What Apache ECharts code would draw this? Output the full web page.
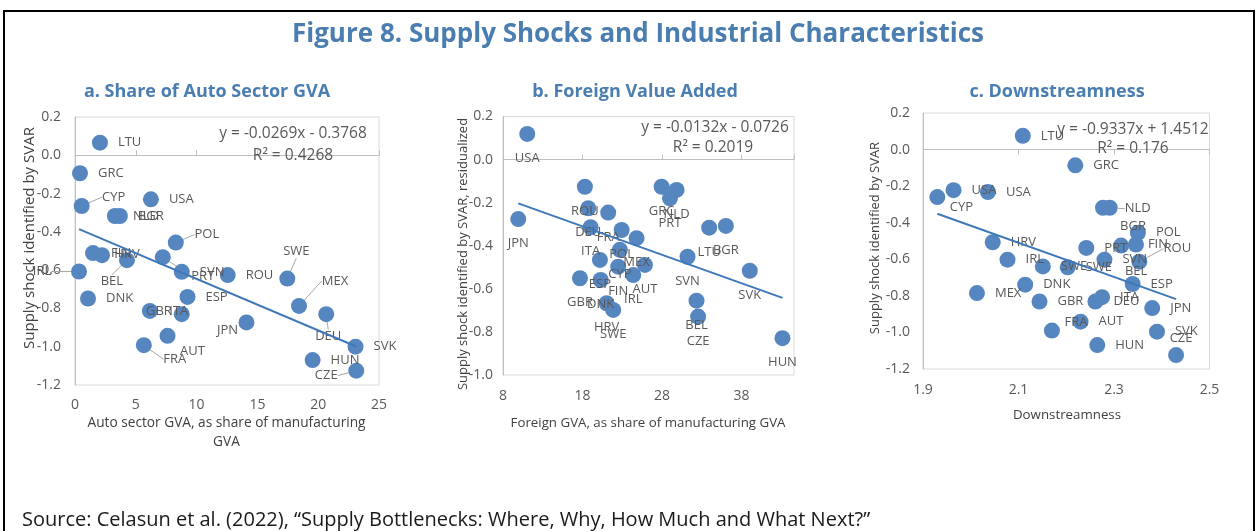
<!DOCTYPE html>
<html><head><meta charset="utf-8">
<script src="https://cdn.jsdelivr.net/npm/echarts@6/dist/echarts.min.js"></script>
<style>html,body{margin:0;padding:0;background:#fff}#chart{width:1258px;height:531px}</style>
</head><body><div id="chart"></div>
<script>
// ---------- DATA ----------
// Panel a: Share of auto sector GVA
const aNames = ['LTU','GRC','CYP','USA','NLD','BGR','POL','FIN','HRV','BEL','IRL','DNK','PRT','SVN','ROU','ESP','GBR','ITA','JPN','FRA','AUT','SWE','MEX','DEU','SVK','HUN','CZE'];
const aX = [2.05,0.41,0.55,6.24,3.28,3.69,8.29,1.48,2.22,4.27,0.33,1.07,7.22,8.78,12.56,9.25,6.16,8.78,14.1,5.66,7.61,17.46,18.42,20.66,23.07,19.54,23.13];
const aY = [0.066,-0.094,-0.265,-0.230,-0.317,-0.317,-0.456,-0.511,-0.522,-0.548,-0.607,-0.748,-0.532,-0.609,-0.626,-0.740,-0.813,-0.830,-0.873,-0.992,-0.943,-0.644,-0.787,-0.830,-1.000,-1.070,-1.125];
const aTrend = [-0.0269, -0.3768];   // slope, intercept (from the chart's equation)
const aEq = ['y = -0.0269x - 0.3768', 'R\u00b2 = 0.4268'];

// Panel b: Foreign value added
const bNames = ['USA','JPN','ROU','DEU','FRA','ITA','POL','MEX','CYP','ESP','FIN','AUT','IRL','GBR','DNK','HRV','SWE','GRC','NLD','PRT','LTU','BGR','SVN','BEL','CZE','SVK','HUN'];
const bX = [11.05,9.92,18.3,18.72,21.23,19.02,22.92,24.8,22.7,20.19,22.49,25.85,24.38,17.68,20.28,21.03,21.86,27.95,29.83,29.0,33.93,36.03,31.21,32.34,32.54,39.04,43.15];
const bY = [0.119,-0.276,-0.126,-0.226,-0.246,-0.314,-0.327,-0.365,-0.419,-0.466,-0.497,-0.489,-0.536,-0.551,-0.559,-0.667,-0.698,-0.126,-0.141,-0.180,-0.316,-0.308,-0.451,-0.655,-0.729,-0.516,-0.829];
const bTrend = [-0.0132, -0.0726];
const bEq = ['y = -0.0132x - 0.0726', 'R\u00b2 = 0.2019'];

// Panel c: Downstreamness
const cNames = ['LTU','GRC','USA','USA','CYP','BGR','NLD','POL','FIN','HRV','PRT','BEL','IRL','SWE','SWE','SVN','ROU','ESP','DNK','MEX','GBR','DEU','ITA','JPN','FRA','AUT','HUN','SVK','CZE'];
const cX = [2.109,2.219,1.964,2.036,1.930,2.277,2.291,2.350,2.346,2.046,2.242,2.315,2.077,2.151,2.203,2.280,2.353,2.339,2.114,2.013,2.144,2.261,2.275,2.380,2.170,2.230,2.265,2.390,2.430];
const cY = [0.075,-0.086,-0.222,-0.232,-0.260,-0.318,-0.318,-0.455,-0.519,-0.507,-0.538,-0.525,-0.602,-0.639,-0.644,-0.602,-0.613,-0.735,-0.739,-0.785,-0.831,-0.831,-0.807,-0.867,-0.990,-0.941,-1.069,-0.996,-1.124];
const cTrend = [-0.9337, 1.4512];
const cEq = ['y = -0.9337x + 1.4512', 'R\u00b2 = 0.176'];

// Tick settings
const aXTicks = {min: 0, max: 25, interval: 5};
const bXTicks = {min: 8, max: 44.6, interval: 10};
const cXTicks = {min: 1.9, max: 2.5, interval: 0.2};
const aYTicks = {min: -1.2, max: 0.2, interval: 0.2};
const bYTicks = {min: -1.0, max: 0.2, interval: 0.2};
const cYTicks = {min: -1.2, max: 0.2, interval: 0.2};

// ---------- STYLE (label placement: [dx, dy, leaderLine]) ----------
const aLabelMoves = {CYP:[32,-9,1], POL:[31,-8,1], HRV:[25,-1,0], BEL:[-15,21,1], IRL:[-37,0,1], PRT:[40,19,1],
  GBR:[9,0,0], ITA:[-3,-3,0], JPN:[-19,8,0], FRA:[31,14,1], AUT:[25,15,0], SWE:[9,-27,1], MEX:[36,-25,1], DEU:[2,22,1], CZE:[-30,5,1]};
const cLabelMoves = {CYP:[24,10,0], BGR:[30,19,0], NLD:[28,1,1], FIN:[22,0,0], BEL:[15,26,0], ROU:[38,-13,1], FRA:[24,-8,0], CZE:[5,-17,0]};

const DOT = '#5686c0';
const LINE = '#3f78b8';
const TXT = '#595959';
const AX = '#bfbfbf';
const TITLE = '#4a7db0';
const FONT = '"Open Sans", "DejaVu Sans", sans-serif';

function fmt1(v){ if (Math.abs(v) < 1e-9) return '0.0'; return v.toFixed(1); }

function makeData(names, xs, ys, moves){
  return names.map((n, i) => {
    const item = {name: n, value: [xs[i], ys[i]]};
    const m = moves && moves[n];
    if (m) {
      item.label = {position: 'inside'};
      if (m[2]) item.labelLine = {show: true};
    }
    return item;
  });
}
function layoutFn(names, moves){
  return function(p){
    const m = moves && moves[names[p.dataIndex]];
    if (m) return {dx: m[0], dy: m[1]};
    return {};
  };
}
function trendData(xs, t){
  const lo = Math.min.apply(null, xs), hi = Math.max.apply(null, xs);
  return [[lo, t[0]*lo + t[1]], [hi, t[0]*hi + t[1]]];
}

const grids = [
  {left: 75, top: 117, width: 304, height: 268},
  {left: 503, top: 116.5, width: 291, height: 258.5},
  {left: 923, top: 113, width: 286.5, height: 256}
];

function xAxesFor(gi, t, ticksInside, margin){
  return [
    {type:'value', gridIndex: gi, position:'bottom', min:t.min, max:t.max, interval:t.interval,
     axisLine:{show:false, onZero:false}, axisTick:{show:false}, splitLine:{show:false},
     axisLabel:{fontFamily: FONT, fontSize: 14, color: TXT, margin: margin, showMaxLabel: gi !== 1,
       formatter: v => gi === 2 ? v.toFixed(1) : String(Math.round(v))}},
    {type:'value', gridIndex: gi, position:'bottom', min:t.min, max:t.max, interval:t.interval,
     axisLine:{show:true, onZero:true, lineStyle:{color: AX, width: 1}},
     axisTick:{show:true, inside: ticksInside, length: 5, lineStyle:{color: AX}},
     axisLabel:{show:false}, splitLine:{show:false}}
  ];
}
function yAxisFor(gi, t, margin){
  return {type:'value', gridIndex: gi, min:t.min, max:t.max, interval:t.interval,
    axisLine:{show:true, onZero:false, lineStyle:{color: AX}}, axisTick:{show:false}, splitLine:{show:false},
    axisLabel:{fontFamily: FONT, fontSize: 14, color: TXT, margin: margin, formatter: fmt1}};
}

const labelBase = {show: true, formatter: '{b}', fontFamily: FONT, fontSize: 13, color: TXT};

function scatterSeries(xi, yi, names, xs, ys, moves, pos, dist){
  return {
    type: 'scatter', xAxisIndex: xi, yAxisIndex: yi, symbolSize: 16, z: 2,
    itemStyle: {color: DOT, opacity: 1},
    label: Object.assign({position: pos, distance: dist}, labelBase),
    labelLine: {show: false, lineStyle: {color: '#a6a6a6', width: 1}},
    labelLayout: layoutFn(names, moves),
    emphasis: {disabled: true},
    data: makeData(names, xs, ys, moves)
  };
}
function trendSeries(xi, yi, xs, t){
  return {type:'line', xAxisIndex: xi, yAxisIndex: yi, symbol:'none', z: 3, silent: true,
    lineStyle:{color: LINE, width: 2}, data: trendData(xs, t)};
}

function txt(x, y, text, font, fill, align, rot){
  const g = {type:'text', x: x, y: y, silent: true, z: 10,
    style:{text: text, font: font, fill: fill, align: align || 'center', verticalAlign: 'middle'}};
  if (rot) g.rotation = rot;
  return g;
}

const titleFont = 'bold 26px "Open Sans", Lato, sans-serif';
const subFont = 'bold 18px "Open Sans", Lato, sans-serif';
const eqFont = '15.5px "Open Sans", sans-serif';
const axTitle = '"Open Sans", sans-serif';

const option = {
  animation: false,
  backgroundColor: '#ffffff',
  grid: grids.map(g => Object.assign({show: true, borderColor: '#d9d9d9', borderWidth: 1, backgroundColor: 'transparent'}, g)),
  xAxis: [].concat(xAxesFor(0, aXTicks, true, 13), xAxesFor(1, bXTicks, true, 14), xAxesFor(2, cXTicks, false, 14)),
  yAxis: [yAxisFor(0, aYTicks, 14), yAxisFor(1, bYTicks, 10), yAxisFor(2, cYTicks, 13)],
  series: [
    scatterSeries(0, 0, aNames, aX, aY, aLabelMoves, 'right', 10),
    trendSeries(0, 0, aX, aTrend),
    scatterSeries(2, 1, bNames, bX, bY, null, 'bottom', 10),
    trendSeries(2, 1, bX, bTrend),
    scatterSeries(4, 2, cNames, cX, cY, cLabelMoves, 'right', 10),
    trendSeries(4, 2, cX, cTrend)
  ],
  graphic: [
    {type:'rect', shape:{x:4, y:11, width:1250, height:540}, style:{fill:'none', stroke:'#000', lineWidth:2}, silent:true, z: 0},
    txt(638, 35, 'Figure 8. Supply Shocks and Industrial Characteristics', titleFont, TITLE),
    txt(207, 92, 'a. Share of Auto Sector GVA', subFont, TITLE),
    txt(635, 92, 'b. Foreign Value Added', subFont, TITLE),
    txt(1057, 92, 'c. Downstreamness', subFont, TITLE),
    txt(293, 134, aEq[0], eqFont, TXT), txt(293, 156, aEq[1], eqFont, TXT),
    txt(715, 128, bEq[0], eqFont, TXT), txt(713, 148, bEq[1], eqFont, TXT),
    txt(1133, 130, cEq[0], eqFont, TXT), txt(1133, 149, cEq[1], eqFont, TXT),
    txt(30, 238, 'Supply shock identified by SVAR', '15px ' + axTitle, '#404040', 'center', Math.PI/2),
    txt(463, 254, 'Supply shock identified by SVAR, residualized', '13px ' + axTitle, '#404040', 'center', Math.PI/2),
    txt(875, 238, 'Supply shock identified by SVAR', '13px ' + axTitle, '#404040', 'center', Math.PI/2),
    txt(226.5, 423, 'Auto sector GVA, as share of manufacturing', '13.7px ' + axTitle, '#404040'),
    txt(226.5, 442, 'GVA', '13.7px ' + axTitle, '#404040'),
    txt(648, 423, 'Foreign GVA, as share of manufacturing GVA', '13.3px ' + axTitle, '#404040'),
    txt(1067, 415, 'Downstreamness', '13.3px ' + axTitle, '#404040'),
    txt(22, 520, 'Source: Celasun et al. (2022), \u201cSupply Bottlenecks: Where, Why, How Much and What Next?\u201d', '20px ' + axTitle, '#1a1a1a', 'left')
  ]
};

const chart = echarts.init(document.getElementById('chart'), null, {renderer: 'canvas'});
chart.setOption(option);
</script>
</body></html>
